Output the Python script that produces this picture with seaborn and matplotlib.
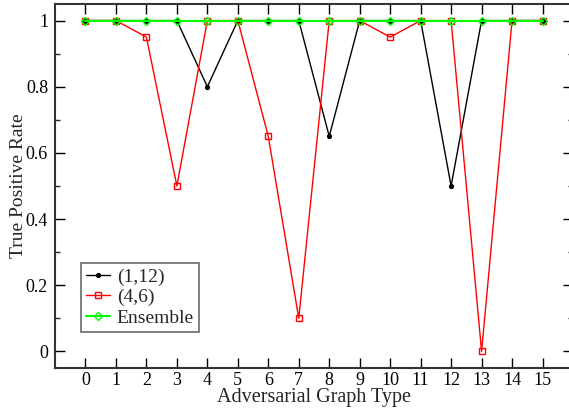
import matplotlib
matplotlib.use("Agg")
import matplotlib.pyplot as plt
import seaborn as sns
import pandas as pd
from matplotlib.ticker import MultipleLocator

graph_type = list(range(16))
tpr_1_12 = [1, 1, 1, 1, 0.8, 1, 1, 1, 0.65, 1, 1, 1, 0.5, 1, 1, 1]
tpr_4_6 = [1, 1, 0.95, 0.5, 1, 1, 0.65, 0.1, 1, 1, 0.95, 1, 1, 0.0, 1, 1]
tpr_ensemble = [1] * 16
series_names = ["(1,12)", "(4,6)", "Ensemble"]

sns.set_theme(style="ticks")
plt.rcParams["font.family"] = ["Liberation Serif", "DejaVu Serif"]

fig = plt.figure(figsize=(5.69, 4.08), dpi=100)
ax = fig.add_axes([55 / 569, 40 / 408, 518 / 569, 364 / 408])

df1 = pd.DataFrame({"x": graph_type, "y": tpr_1_12})
df2 = pd.DataFrame({"x": graph_type, "y": tpr_4_6})
df3 = pd.DataFrame({"x": graph_type, "y": tpr_ensemble})

sns.lineplot(data=df1, x="x", y="y", ax=ax, color="black", lw=1,
             marker="o", markersize=3, markeredgecolor="black",
             markerfacecolor="black", label=series_names[0])
sns.lineplot(data=df2, x="x", y="y", ax=ax, color="red", lw=1,
             marker="s", markersize=5, markeredgecolor="red",
             markerfacecolor="none", markeredgewidth=1, label=series_names[1])
sns.lineplot(data=df3, x="x", y="y", ax=ax, color="#00ff00", lw=1.5,
             marker="D", markersize=4, markeredgecolor="#00ff00",
             markerfacecolor="none", markeredgewidth=1, label=series_names[2])

ax.set_xlim(-1, 16)
ax.set_ylim(-0.05, 1.05)
ax.set_xticks(graph_type)
ax.set_xticklabels([str(v) for v in graph_type])
ax.set_yticks([0, 0.2, 0.4, 0.6, 0.8, 1.0])
ax.set_yticklabels(["0", "0.2", "0.4", "0.6", "0.8", "1"])
ax.yaxis.set_minor_locator(MultipleLocator(0.1))
ax.tick_params(axis="both", which="major", direction="in", length=7.2,
               width=1, top=True, right=True, labelsize=13, colors="black")
ax.tick_params(axis="x", which="major", pad=3)
ax.tick_params(axis="y", which="major", pad=5)
ax.tick_params(axis="y", which="minor", direction="in", length=3.6,
               width=1, right=True, left=True)
ax.tick_params(axis="x", which="minor", bottom=False, top=False)
for sp in ax.spines.values():
    sp.set_visible(True)
    sp.set_linewidth(1.5)
    sp.set_color("#333333")

ax.set_xlabel("Adversarial Graph Type", fontsize=14.5, labelpad=-1)
ax.set_ylabel("True Positive Rate", fontsize=14, labelpad=-1)

leg = ax.legend(loc="lower left", bbox_to_anchor=(0.05, 0.10), fontsize=14,
                frameon=True, fancybox=False, handlelength=1.25,
                handletextpad=0.35, borderpad=0.25, labelspacing=0.15,
                borderaxespad=0)
leg.get_frame().set_edgecolor("#444444")
leg.get_frame().set_linewidth(1.2)

fig.savefig("out.png", dpi=100)
